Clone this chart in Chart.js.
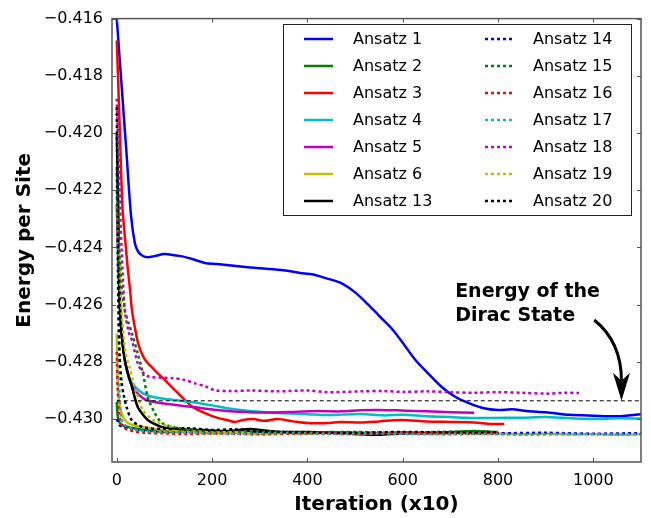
<!DOCTYPE html>
<html>
<head>
<meta charset="utf-8">
<script src="https://cdn.jsdelivr.net/npm/chart.js@4"></script>
<style>
  html, body { margin: 0; padding: 0; background: #fff; }
  #wrap { width: 651px; height: 518px; }
</style>
</head>
<body>
<div id="wrap"><canvas id="energy-chart" width="651" height="518"></canvas></div>
<script>
// ---- data (x = iteration / 10, y = energy per site) ----
var xTicks = [0, 200, 400, 600, 800, 1000];
var yTicks = [-0.430, -0.428, -0.426, -0.424, -0.422, -0.420, -0.418, -0.416];
var diracEnergy = -0.42936;

var ansatz1X = [0, 10, 20, 30, 38, 45, 55, 65, 80, 100, 120, 140, 165, 185, 210, 250, 300, 350, 385, 410, 440, 470, 500, 526, 550, 575, 600, 625, 650, 680, 710, 740, 770, 800, 830, 860, 900, 950, 1000, 1050, 1100];
var ansatz1Y = [-0.4160, -0.4183, -0.4206, -0.4229, -0.42385, -0.42415, -0.4243, -0.42434, -0.4243, -0.42423, -0.42427, -0.42432, -0.42444, -0.42454, -0.42458, -0.42465, -0.42473, -0.4248, -0.42489, -0.42494, -0.42508, -0.42524, -0.42557, -0.42597, -0.42638, -0.4268, -0.42733, -0.4279, -0.42835, -0.42885, -0.42922, -0.42945, -0.42962, -0.42968, -0.42966, -0.42972, -0.42976, -0.42985, -0.42988, -0.4299, -0.42983];

var ansatz2X = [0, 3, 10, 30, 60, 100, 150, 200, 250, 300, 350, 400, 450, 500, 550, 600, 650, 700, 750, 800];
var ansatz2Y = [-0.4294, -0.4300, -0.4302, -0.4303, -0.43038, -0.43045, -0.43043, -0.43048, -0.43046, -0.43044, -0.43047, -0.4305, -0.43045, -0.43048, -0.43052, -0.43046, -0.43049, -0.43045, -0.43042, -0.43046];

var ansatz3X = [0, 5, 12, 18, 23, 28, 32, 38, 45, 55, 65, 74, 86, 100, 116, 130, 143, 160, 185, 210, 231, 248, 265, 286, 310, 337, 370, 400, 442, 469, 512, 550, 596, 650, 700, 750, 785, 813];
var ansatz3Y = [-0.41676, -0.4192, -0.4226, -0.4238, -0.42472, -0.4255, -0.42621, -0.4268, -0.42736, -0.4278, -0.42805, -0.42819, -0.4284, -0.42862, -0.42889, -0.42912, -0.42934, -0.42958, -0.42979, -0.42995, -0.43003, -0.4301, -0.43003, -0.43, -0.43006, -0.43, -0.43008, -0.43014, -0.43014, -0.4301, -0.43012, -0.43008, -0.43003, -0.43008, -0.4301, -0.43012, -0.43017, -0.43017];

var ansatz4X = [0, 3, 6, 10, 15, 20, 27, 40, 55, 70, 91, 120, 160, 200, 231, 280, 337, 400, 442, 512, 560, 600, 650, 700, 750, 785, 850, 900, 950, 1000, 1050, 1100];
var ansatz4Y = [-0.4212, -0.4235, -0.4255, -0.4268, -0.4277, -0.4282, -0.42862, -0.4289, -0.4291, -0.4292, -0.42927, -0.42933, -0.42941, -0.42952, -0.42962, -0.42972, -0.42979, -0.42983, -0.42986, -0.42982, -0.42987, -0.42985, -0.4299, -0.42993, -0.42996, -0.42996, -0.42995, -0.42993, -0.42997, -0.43, -0.42997, -0.42998];

var ansatz5X = [0, 4, 8, 13, 20, 30, 38, 55, 70, 91, 120, 160, 210, 265, 320, 370, 420, 469, 512, 550, 596, 650, 700, 750];
var ansatz5Y = [-0.4225, -0.4250, -0.4265, -0.4275, -0.4282, -0.42875, -0.42899, -0.42927, -0.42937, -0.42944, -0.4295, -0.42958, -0.42968, -0.42975, -0.42977, -0.42975, -0.42972, -0.42973, -0.42969, -0.42968, -0.4297, -0.42973, -0.42976, -0.42978];

var ansatz6X = [0, 2, 5, 10, 18, 27, 45, 69, 100, 150, 200, 250, 300, 350, 400, 450, 500, 550, 600, 650, 700, 750, 800, 850, 900, 950, 1000, 1050, 1100];
var ansatz6Y = [-0.42701, -0.42875, -0.4294, -0.42979, -0.43005, -0.43017, -0.43025, -0.43031, -0.4304, -0.43045, -0.4305, -0.43047, -0.43052, -0.43048, -0.4305, -0.43047, -0.43052, -0.4305, -0.43048, -0.43051, -0.43049, -0.43052, -0.4305, -0.43053, -0.43051, -0.43054, -0.43052, -0.43055, -0.43053];

var ansatz13X = [0, 3, 6, 10, 17, 25, 32, 44, 55, 65, 80, 95, 130, 180, 230, 280, 300, 350, 400, 450, 500, 550, 600, 700, 780];
var ansatz13Y = [-0.4200, -0.4225, -0.42587, -0.4270, -0.42795, -0.4285, -0.42889, -0.42958, -0.42985, -0.43003, -0.43018, -0.43028, -0.43035, -0.43038, -0.43042, -0.43035, -0.43038, -0.43045, -0.43045, -0.43048, -0.43052, -0.43055, -0.4305, -0.43048, -0.43045];

var ansatz14X = [0, 5, 15, 30, 60, 100, 150, 200, 300, 400, 500, 600, 700, 800, 900, 1000, 1100];
var ansatz14Y = [-0.4300, -0.4302, -0.43028, -0.43035, -0.43042, -0.43045, -0.43048, -0.43047, -0.4305, -0.43048, -0.43051, -0.43049, -0.43052, -0.4305, -0.43048, -0.43051, -0.43049];

var ansatz15X = [0, 5, 10, 17, 25, 32, 44, 55, 65, 80, 95, 120, 160, 200, 300, 400, 500, 600, 700, 800];
var ansatz15Y = [-0.4220, -0.4240, -0.4253, -0.42621, -0.42665, -0.42701, -0.42771, -0.4284, -0.42923, -0.42979, -0.43014, -0.43028, -0.43038, -0.43045, -0.43043, -0.43047, -0.43045, -0.43048, -0.43044, -0.43047];

var ansatz16X = [0, 2, 5, 10, 20, 34, 60, 100, 150, 200, 300, 400, 500, 600, 700, 800];
var ansatz16Y = [-0.42765, -0.4289, -0.4298, -0.4302, -0.43035, -0.43042, -0.43048, -0.4305, -0.43052, -0.4305, -0.43053, -0.4305, -0.43052, -0.43049, -0.43051, -0.4305];

var ansatz17X = [0, 2, 4, 6, 10, 20, 40, 80, 150, 250, 350, 450, 550, 650, 750, 850, 950, 1050, 1100];
var ansatz17Y = [-0.4212, -0.4245, -0.4275, -0.4292, -0.4300, -0.43025, -0.43038, -0.43045, -0.43048, -0.43051, -0.43049, -0.43052, -0.4305, -0.43053, -0.43051, -0.43055, -0.43052, -0.43054, -0.43052];

var ansatz18X = [0, 5, 10, 17, 25, 32, 44, 55, 68, 90, 116, 140, 164, 185, 206, 240, 280, 337, 400, 442, 512, 560, 600, 650, 700, 750, 800, 850, 900, 940, 970];
var ansatz18Y = [-0.4188, -0.4215, -0.4240, -0.4262, -0.42695, -0.42725, -0.42805, -0.42837, -0.42852, -0.42855, -0.42857, -0.42862, -0.42875, -0.42885, -0.42899, -0.42902, -0.429, -0.42903, -0.429, -0.42906, -0.42903, -0.42902, -0.42905, -0.42903, -0.42906, -0.42908, -0.42906, -0.42908, -0.42911, -0.42908, -0.42909];

var ansatz19X = [0, 5, 10, 15, 20, 27, 35, 42, 55, 70, 84, 110, 150, 200, 300, 400, 500, 600, 700, 800];
var ansatz19Y = [-0.4225, -0.4245, -0.4262, -0.4272, -0.4278, -0.42819, -0.4287, -0.4291, -0.42969, -0.42995, -0.4301, -0.43025, -0.43035, -0.43042, -0.43047, -0.43045, -0.43049, -0.43046, -0.43048, -0.43046];

var ansatz20X = [0, 3, 6, 10, 15, 21, 30, 42, 60, 100, 150, 200, 250, 300, 400, 500, 600, 700, 800];
var ansatz20Y = [-0.4191, -0.4250, -0.4278, -0.4287, -0.4292, -0.4296, -0.4300, -0.43018, -0.4303, -0.43035, -0.43032, -0.43038, -0.43036, -0.43044, -0.43046, -0.43048, -0.43045, -0.43047, -0.43046];

var seriesNames = ["Ansatz 1", "Ansatz 2", "Ansatz 3", "Ansatz 4", "Ansatz 5", "Ansatz 6", "Ansatz 13",
                   "Ansatz 14", "Ansatz 15", "Ansatz 16", "Ansatz 17", "Ansatz 18", "Ansatz 19", "Ansatz 20"];
var seriesX = [ansatz1X, ansatz2X, ansatz3X, ansatz4X, ansatz5X, ansatz6X, ansatz13X,
               ansatz14X, ansatz15X, ansatz16X, ansatz17X, ansatz18X, ansatz19X, ansatz20X];
var seriesY = [ansatz1Y, ansatz2Y, ansatz3Y, ansatz4Y, ansatz5Y, ansatz6Y, ansatz13Y,
               ansatz14Y, ansatz15Y, ansatz16Y, ansatz17Y, ansatz18Y, ansatz19Y, ansatz20Y];

// ---- styling ----
var palette = ["#0000ff", "#008000", "#ff0000", "#00bfbf", "#bf00bf", "#bfbf00", "#000000"];
var dotted = [3, 3];

function points(xs, ys) {
    return xs.map(function (x, i) { return { x: x, y: ys[i] }; });
}

var datasets = seriesNames.map(function (name, i) {
    var isDotted = i >= 7;
    return {
        label: name,
        data: points(seriesX[i], seriesY[i]),
        borderColor: palette[i % 7],
        borderWidth: 2.5,
        borderDash: isDotted ? dotted : [],
        pointRadius: 0,
        tension: 0.3,
        fill: false,
        order: 100 - i,
    };
});

datasets.push({
    label: "Dirac",
    data: [{ x: 0, y: diracEnergy }, { x: 1100, y: diracEnergy }],
    borderColor: "#000000",
    borderWidth: 1,
    borderDash: [4, 3],
    pointRadius: 0,
    fill: false,
    order: 0,
});

// frame, inward ticks, legend box and annotation arrow
var decorations = {
    id: "decorations",
    afterDraw: function (chart) {
        var ctx = chart.ctx;
        var a = chart.chartArea;
        var xs = chart.scales.x;
        var ys = chart.scales.y;
        ctx.save();

        // inward ticks on all four sides
        ctx.strokeStyle = "#555";
        ctx.lineWidth = 1;
        ctx.beginPath();
        xTicks.forEach(function (t) {
            var px = Math.round(xs.getPixelForValue(t)) + 0.5;
            ctx.moveTo(px, a.bottom); ctx.lineTo(px, a.bottom - 4);
            ctx.moveTo(px, a.top); ctx.lineTo(px, a.top + 4);
        });
        yTicks.forEach(function (t) {
            var py = Math.round(ys.getPixelForValue(t)) + 0.5;
            ctx.moveTo(a.left, py); ctx.lineTo(a.left + 4, py);
            ctx.moveTo(a.right, py); ctx.lineTo(a.right - 4, py);
        });
        ctx.stroke();

        // frame
        ctx.lineWidth = 1.5;
        ctx.strokeRect(a.left, a.top, a.right - a.left, a.bottom - a.top);

        // annotation
        ctx.fillStyle = "#000";
        ctx.font = "bold 19px 'DejaVu Sans'";
        ctx.textAlign = "left";
        ctx.textBaseline = "middle";
        var tx = xs.getPixelForValue(710);
        ctx.fillText("Energy of the", tx, 292);
        ctx.fillText("Dirac State", tx, 316);

        var sx = xs.getPixelForValue(1002), sy = 320;
        var ex = xs.getPixelForValue(1059), ey = ys.getPixelForValue(diracEnergy);
        ctx.strokeStyle = "#000";
        ctx.lineWidth = 3;
        ctx.beginPath();
        ctx.moveTo(sx, sy);
        ctx.quadraticCurveTo(ex, sy + 22, ex, ey - 20);
        ctx.stroke();
        ctx.beginPath();
        ctx.moveTo(ex, ey);
        ctx.lineTo(ex - 8.5, ey - 28);
        ctx.lineTo(ex, ey - 20);
        ctx.lineTo(ex + 8.5, ey - 28);
        ctx.closePath();
        ctx.fill();

        // legend box
        var bx = 283, by = 24, bw = 348, bh = 191;
        ctx.fillStyle = "#fff";
        ctx.fillRect(bx, by, bw, bh);
        ctx.strokeStyle = "#222";
        ctx.lineWidth = 1;
        ctx.strokeRect(bx + 0.5, by + 0.5, bw, bh);
        ctx.font = "16px 'DejaVu Sans'";
        ctx.textBaseline = "middle";
        seriesNames.forEach(function (name, i) {
            var col = i < 7 ? 0 : 1;
            var row = i % 7;
            var ly = 39 + row * 27;
            var lx0 = col === 0 ? 304 : 485;
            var lx1 = col === 0 ? 333 : 512;
            var txx = col === 0 ? 353 : 533;
            ctx.strokeStyle = palette[row];
            ctx.lineWidth = 2.5;
            ctx.setLineDash(col === 1 ? dotted : []);
            ctx.beginPath();
            ctx.moveTo(lx0, ly);
            ctx.lineTo(lx1, ly);
            ctx.stroke();
            ctx.setLineDash([]);
            ctx.fillStyle = "#000";
            ctx.fillText(name, txx, ly + 1);
        });
        ctx.restore();
    },
};

var tickFont = { family: "'DejaVu Sans'", size: 16 };
var titleFont = { family: "'DejaVu Sans'", size: 20, weight: "bold" };

var ctx = document.getElementById("energy-chart").getContext("2d");
var chart = new Chart(ctx, {
    type: "line",
    data: { datasets: datasets },
    options: {
        responsive: false,
        animation: false,
        layout: { padding: { left: 0, right: 10, top: 16, bottom: 0 } },
        plugins: { legend: { display: false }, tooltip: { enabled: false } },
        scales: {
            x: {
                type: "linear",
                min: -10,
                max: 1100,
                afterBuildTicks: function (scale) {
                    scale.ticks = xTicks.map(function (v) { return { value: v }; });
                },
                afterFit: function (scale) { scale.height = 56; },
                grid: { display: false, drawTicks: false },
                border: { display: false },
                ticks: {
                    color: "#000",
                    font: tickFont,
                    padding: 9,
                    maxRotation: 0,
                    callback: function (v) { return String(v); },
                },
                title: {
                    display: true,
                    text: "Iteration (x10)",
                    color: "#000",
                    font: titleFont,
                    padding: { top: 0, bottom: 1 },
                },
            },
            y: {
                type: "linear",
                min: -0.4315,
                max: -0.416,
                afterBuildTicks: function (scale) {
                    scale.ticks = yTicks.map(function (v) { return { value: v }; });
                },
                afterFit: function (scale) { scale.width = 112; },
                grid: { display: false, drawTicks: false },
                border: { display: false },
                ticks: {
                    color: "#000",
                    font: tickFont,
                    padding: 9,
                    callback: function (v) { return "\u2212" + Math.abs(v).toFixed(3); },
                },
                title: {
                    display: true,
                    text: "Energy per Site",
                    color: "#000",
                    font: titleFont,
                    padding: { top: 13, bottom: 0 },
                },
            },
        },
    },
    plugins: [decorations],
});
</script>
</body>
</html>
